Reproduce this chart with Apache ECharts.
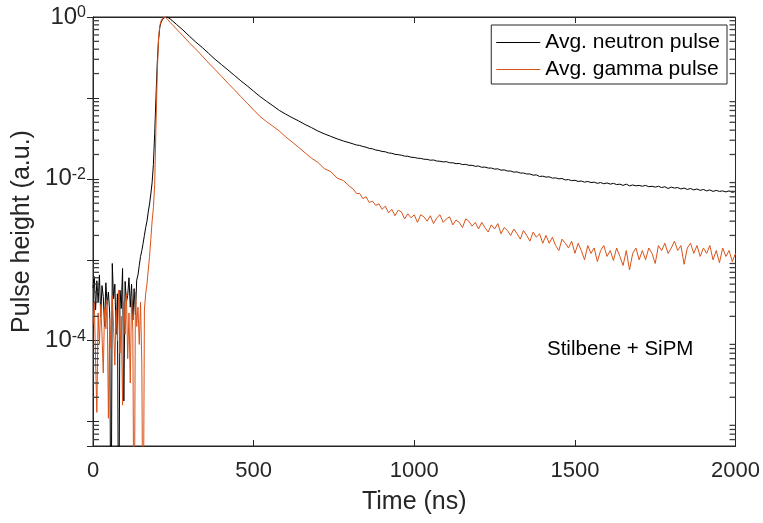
<!DOCTYPE html>
<html><head><meta charset="utf-8">
<script src="https://cdn.jsdelivr.net/npm/echarts@6/dist/echarts.min.js"></script>
<style>html,body{margin:0;padding:0;background:#fff}#c{width:763px;height:523px}</style>
</head><body><div id="c"></div>
<script>
// ---- time samples (ns) ----
const timePre = [0,4,8,12,16,20,24,28,32,36,40,44,48,52,56,60,64,68,72,76,80,84,88,92,96,100,104,108,112,116,120,124,128,132,136];
const timeRise = [140,144,148,152,156,160,164,168,172,176,180,184,188,192,196,200,204,208,212,216,220,224,228,232,236];
const timeDecay = [240,260,280,300,320,340,360,380,400,420,440,460,480,500,520,540,560,580,600,620,640,660,680,700,720,740,760,780,800];
const timeTail = [
  810,820,830,840,850,860,870,880,890,900,
  910,920,930,940,950,960,970,980,990,1000,
  1010,1020,1030,1040,1050,1060,1070,1080,1090,1100,
  1110,1120,1130,1140,1150,1160,1170,1180,1190,1200,
  1210,1220,1230,1240,1250,1260,1270,1280,1290,1300,
  1310,1320,1330,1340,1350,1360,1370,1380,1390,1400,
  1410,1420,1430,1440,1450,1460,1470,1480,1490,1500,
  1510,1520,1530,1540,1550,1560,1570,1580,1590,1600,
  1610,1620,1630,1640,1650,1660,1670,1680,1690,1700,
  1710,1720,1730,1740,1750,1760,1770,1780,1790,1800,
  1810,1820,1830,1840,1850,1860,1870,1880,1890,1900,
  1910,1920,1930,1940,1950,1960,1970,1980,1990,2000];

// ---- Avg. neutron pulse ----
const neutronPre = [4.5e-4,6.2e-4,2.4e-4,5.5e-4,3.0e-4,6.5e-4,2.0e-4,4.8e-4,3.5e-4,1.5e-4,5.2e-4,2.8e-4,4.0e-4,2.2e-4,1e-7,9.0e-4,3.3e-4,5.0e-4,1.2e-4,3.8e-4,1e-7,4.2e-4,2.5e-4,7.8e-4,1.8e-5,5.4e-4,3.0e-4,3.6e-4,6.0e-4,2.6e-4,5.0e-4,1.8e-4,4.4e-4,2.1e-4,5.6e-4];
const neutronRise = [6.5e-4,8.5e-4,1.1e-3,1.3e-3,1.6e-3,2.0e-3,2.5e-3,3.0e-3,3.9e-3,4.9e-3,6.5e-3,9.0e-3,0.015,0.036,0.10,0.27,0.52,0.75,0.86,0.93,0.97,0.99,1.0,0.995,0.97];
const neutronDecay = [0.95,0.81,0.69,0.58,0.49,0.42,0.355,0.30,0.258,0.222,0.19,0.163,0.141,0.121,0.104,0.091,0.080,0.070,0.063,0.057,0.052,0.047,0.043,0.039,0.036,0.0335,0.0312,0.0293,0.0278];
const neutronTail = [
  0.0270,0.0262,0.0259,0.0251,0.0246,0.0238,0.0235,0.0227,0.0224,0.0218,
  0.0216,0.0209,0.0207,0.0201,0.0199,0.0196,0.0191,0.0190,0.0185,0.0184,
  0.0180,0.0179,0.0175,0.0174,0.0170,0.0171,0.0166,0.0165,0.0162,0.0163,
  0.0158,0.0158,0.0154,0.0155,0.0150,0.0151,0.0147,0.0147,0.0143,0.0144,
  0.0139,0.0140,0.0136,0.0136,0.0132,0.0133,0.0128,0.0129,0.0125,0.0125,
  0.0121,0.0122,0.0118,0.0118,0.0115,0.0115,0.0111,0.0112,0.0107,0.0108,
  0.0105,0.0106,0.0102,0.0103,0.0100,0.0101,0.0097,0.0098,0.0095,0.0096,
  0.0093,0.0094,0.0091,0.0093,0.0090,0.0091,0.0088,0.0090,0.0087,0.0089,
  0.0086,0.0088,0.0085,0.0086,0.0083,0.0086,0.0082,0.0084,0.0082,0.0083,
  0.0081,0.0083,0.0080,0.0081,0.0079,0.0081,0.0078,0.0080,0.0076,0.0079,
  0.0077,0.0078,0.0075,0.0077,0.0074,0.0076,0.0073,0.0075,0.0072,0.0074,
  0.0071,0.0073,0.0070,0.0072,0.0070,0.0071,0.0069,0.0071,0.0068,0.0070];

// ---- Avg. gamma pulse ----
const gammaPre = [1.6e-4,3.0e-4,6.0e-5,1.3e-5,2.2e-4,9.0e-5,2.8e-4,1.2e-4,4.0e-5,2.5e-4,1.4e-4,3.2e-4,1.1e-5,1.9e-4,8.0e-5,3.6e-4,1.5e-4,5.0e-5,2.4e-4,1.0e-4,4.2e-4,7.0e-5,2.0e-4,1.6e-5,3.0e-4,1.2e-4,3.8e-4,6.0e-5,2.2e-4,3.0e-5,3.5e-4,1.3e-4,1e-7,4.0e-4,1.5e-4];
const gammaRise = [2.6e-4,9.0e-5,3.0e-4,5.0e-5,1e-7,2.4e-4,3.8e-4,5.0e-4,7.5e-4,1.1e-3,1.8e-3,3.0e-3,4.4e-3,8.5e-3,0.045,0.20,0.55,0.78,0.90,0.96,0.99,1.0,0.98,0.94,0.90];
const gammaDecay = [0.86,0.71,0.585,0.48,0.40,0.33,0.27,0.224,0.185,0.152,0.126,0.104,0.086,0.071,0.059,0.051,0.0447,0.039,0.033,0.0285,0.0245,0.021,0.018,0.0160,0.0134,0.0123,0.0102,0.0095,0.0080];
const gammaTail = [
  0.0075,0.0066,0.0066,0.0057,0.0060,0.0051,0.0053,0.0047,0.0049,0.0042,
  0.0046,0.0038,0.0042,0.0035,0.0041,0.0039,0.0032,0.0037,0.0033,0.0036,
  0.0029,0.0036,0.0034,0.0030,0.0035,0.0028,0.0033,0.0036,0.0029,0.0032,
  0.0034,0.0027,0.0031,0.0029,0.0025,0.0032,0.0030,0.0026,0.0029,0.0024,
  0.0029,0.0025,0.0022,0.0027,0.0024,0.0028,0.0021,0.0025,0.0023,0.0020,
  0.0024,0.0021,0.0018,0.0023,0.0020,0.0017,0.0022,0.0019,0.0021,0.0016,
  0.0020,0.0016,0.0019,0.0015,0.0013,0.0018,0.0016,0.0014,0.0017,0.0012,
  0.0016,0.0013,0.0010,0.0015,0.0012,0.0014,0.00095,0.0013,0.0015,0.0011,
  0.0013,0.00098,0.0014,0.0011,0.00085,0.0013,0.00075,0.0012,0.0014,0.00100,
  0.0013,0.0010,0.0014,0.0012,0.0009,0.0015,0.0013,0.0016,0.0012,0.0014,
  0.0017,0.0013,0.0015,0.00088,0.0014,0.0016,0.0012,0.0015,0.0011,0.0014,
  0.0012,0.0015,0.0010,0.0013,0.00092,0.0014,0.0011,0.0013,0.00095,0.0012];

// ---- axes / labels ----
const seriesNames = ['Avg. neutron pulse', 'Avg. gamma pulse'];
const xTickValues = [0, 500, 1000, 1500, 2000];
const yLabelExponents = [0, -2, -4];
const X_MIN = 0, X_MAX = 2000;
const Y_MIN = 5e-6, Y_MAX = 1;
const annotation = 'Stilbene + SiPM';

const time = timePre.concat(timeRise, timeDecay, timeTail);
const neutron = neutronPre.concat(neutronRise, neutronDecay, neutronTail);
const gamma = gammaPre.concat(gammaRise, gammaDecay, gammaTail);
const neutronData = time.map((t, i) => [t, neutron[i]]);
const gammaData = time.map((t, i) => [t, gamma[i]]);

// minor log ticks (2..9 x 10^k)
const minorTickValues = [];
for (let e = -6; e < 0; e++) {
  for (let m = 2; m <= 9; m++) {
    const v = m * Math.pow(10, e);
    if (v > Y_MIN && v < Y_MAX) minorTickValues.push(v);
  }
}

const AX = '#262626';
const FONT = 'Liberation Sans, Arial, Helvetica, sans-serif';
const chart = echarts.init(document.getElementById('c'), null, {renderer: 'canvas'});
chart.setOption({
  animation: false,
  backgroundColor: '#fff',
  textStyle: {fontFamily: FONT},
  grid: {left: 93, right: 27, top: 13, bottom: 77, containLabel: false,
         show: true, borderColor: AX, borderWidth: 1},
  legend: {
    data: seriesNames.map(n => ({name: n, icon: 'path://M0,0H44V1H0Z'})),
    orient: 'vertical', right: 36, top: 25,
    backgroundColor: '#fff', borderColor: AX, borderWidth: 1,
    padding: [7, 7, 4, 5], itemGap: 6, itemWidth: 44, itemHeight: 1,
    textStyle: {fontSize: 21, color: '#000', fontFamily: FONT}
  },
  xAxis: [{
    type: 'value', min: X_MIN, max: X_MAX, interval: 500,
    axisLine: {show: true, lineStyle: {color: AX}},
    axisTick: {show: true, inside: true, length: 6, lineStyle: {color: AX}},
    splitLine: {show: false},
    axisLabel: {fontSize: 22, color: AX, margin: 14, fontFamily: FONT,
      formatter: v => xTickValues.indexOf(v) >= 0 ? String(v) : ''},
    name: 'Time (ns)', nameLocation: 'middle', nameGap: 44,
    nameTextStyle: {fontSize: 25, color: AX, fontFamily: FONT}
  }, {
    type: 'value', position: 'top', min: X_MIN, max: X_MAX, interval: 500,
    axisLine: {show: true, lineStyle: {color: AX}},
    axisTick: {show: true, inside: true, length: 6, lineStyle: {color: AX}},
    axisLabel: {show: false}, splitLine: {show: false}
  }],
  yAxis: [{
    type: 'log', logBase: 10, min: Y_MIN, max: Y_MAX,
    axisLine: {show: true, lineStyle: {color: AX}},
    axisTick: {show: true, inside: true, length: 6, lineStyle: {color: AX}},
    splitLine: {show: false},
    axisLabel: {
      margin: 7, showMinLabel: false,
      formatter: function (v) {
        const e = Math.round(Math.log10(v));
        if (Math.abs(Math.log10(v) - e) > 1e-6) return '';
        if (yLabelExponents.indexOf(e) < 0) return '';
        return '{b|10}{s|' + e + '}';
      },
      rich: {
        b: {fontSize: 24, color: AX, fontFamily: FONT, lineHeight: 24, verticalAlign: 'bottom', padding: [5, 0, 0, 0]},
        s: {fontSize: 16, color: AX, fontFamily: FONT, lineHeight: 16, verticalAlign: 'top'}
      }
    },
    name: 'Pulse height (a.u.)', nameLocation: 'middle', nameGap: 55,
    nameTextStyle: {fontSize: 25, color: AX, fontFamily: FONT}
  }, {
    type: 'log', logBase: 10, min: Y_MIN, max: Y_MAX, position: 'right',
    axisLine: {show: true, lineStyle: {color: AX}},
    axisTick: {show: true, inside: true, length: 6, lineStyle: {color: AX}},
    axisLabel: {show: false}, splitLine: {show: false}
  }],
  graphic: [{
    type: 'text', left: 547, top: 339,
    style: {text: annotation, fill: '#000', font: '20.5px ' + FONT}
  }],
  series: [{
    name: seriesNames[0], type: 'line', data: neutronData,
    xAxisIndex: 0, yAxisIndex: 0,
    symbol: 'none', showSymbol: false, sampling: null, clip: true,
    lineStyle: {color: '#000000', width: 1}, itemStyle: {color: '#000000'}, z: 2
  }, {
    name: seriesNames[1], type: 'line', data: gammaData,
    xAxisIndex: 0, yAxisIndex: 0,
    symbol: 'none', showSymbol: false, sampling: null, clip: true,
    lineStyle: {color: '#D95319', width: 1}, itemStyle: {color: '#D95319'}, z: 3
  }, {
    // minor ticks on the left frame (library scale positions), drawn inward
    name: 'minorLeft', type: 'scatter', xAxisIndex: 0, yAxisIndex: 0,
    data: minorTickValues.map(v => [X_MIN, v]), clip: false, silent: true,
    symbol: 'rect', symbolSize: [6, 1.3], symbolOffset: [3, 0],
    itemStyle: {color: '#404040', opacity: 1}, z: 10, animation: false
  }, {
    name: 'minorRight', type: 'scatter', xAxisIndex: 0, yAxisIndex: 0,
    data: minorTickValues.map(v => [X_MAX, v]), clip: false, silent: true,
    symbol: 'rect', symbolSize: [6, 1.3], symbolOffset: [-3, 0],
    itemStyle: {color: '#404040', opacity: 1}, z: 10, animation: false
  }]
});
</script>
</body></html>
